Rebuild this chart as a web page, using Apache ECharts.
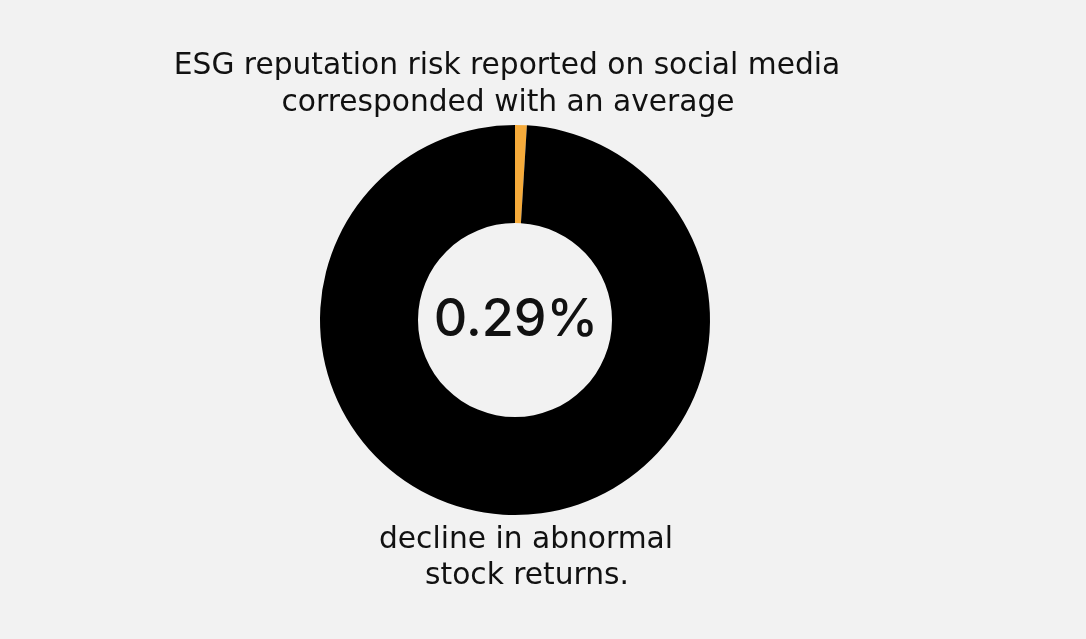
<!DOCTYPE html>
<html>
<head>
<meta charset="utf-8">
<script src="https://cdn.jsdelivr.net/npm/echarts@6/dist/echarts.min.js"></script>
<style>
html,body{margin:0;padding:0;background:#f2f2f2;}
#chart{width:1086px;height:639px;}
</style>
</head>
<body>
<div id="chart"></div>
<script>
const categories = ['ESG reputation risk', 'Other'];
const values = [0.29, 99.71];
const centerLabel = '0.29%';
const topText = ['ESG reputation risk reported on social media', 'corresponded with an average'];
const bottomText = ['decline in abnormal', 'stock returns.'];
const colors = ['#F6AB3B', '#000000'];

const chart = echarts.init(document.getElementById('chart'));
const font = '"DejaVu Sans", sans-serif';
const cfont = 'Inter, "DejaVu Sans", sans-serif';
chart.setOption({
  backgroundColor: '#f2f2f2',
  animation: false,
  series: [{
    type: 'pie',
    center: [515, 320],
    radius: [97, 195],
    startAngle: 90,
    clockwise: true,
    minAngle: 3.5,
    avoidLabelOverlap: false,
    label: { show: false },
    labelLine: { show: false },
    emphasis: { disabled: true },
    itemStyle: { borderWidth: 0 },
    data: categories.map((c, i) => ({ name: c, value: values[i], itemStyle: { color: colors[i] } }))
  }],
  graphic: [
    { type: 'text', x: 507, y: 66, style: { text: topText[0], font: '400 29.7px ' + font, fill: '#111', align: 'center', verticalAlign: 'middle' } },
    { type: 'text', x: 508, y: 103, style: { text: topText[1], font: '400 29.7px ' + font, fill: '#111', align: 'center', verticalAlign: 'middle' } },
    { type: 'text', x: 516, y: 320, style: { text: centerLabel, font: '500 52px ' + cfont, fill: '#111', align: 'center', verticalAlign: 'middle' } },
    { type: 'text', x: 526, y: 540, style: { text: bottomText[0], font: '400 29.7px ' + font, fill: '#111', align: 'center', verticalAlign: 'middle' } },
    { type: 'text', x: 527, y: 576, style: { text: bottomText[1], font: '400 29.7px ' + font, fill: '#111', align: 'center', verticalAlign: 'middle' } }
  ]
});
</script>
</body>
</html>
